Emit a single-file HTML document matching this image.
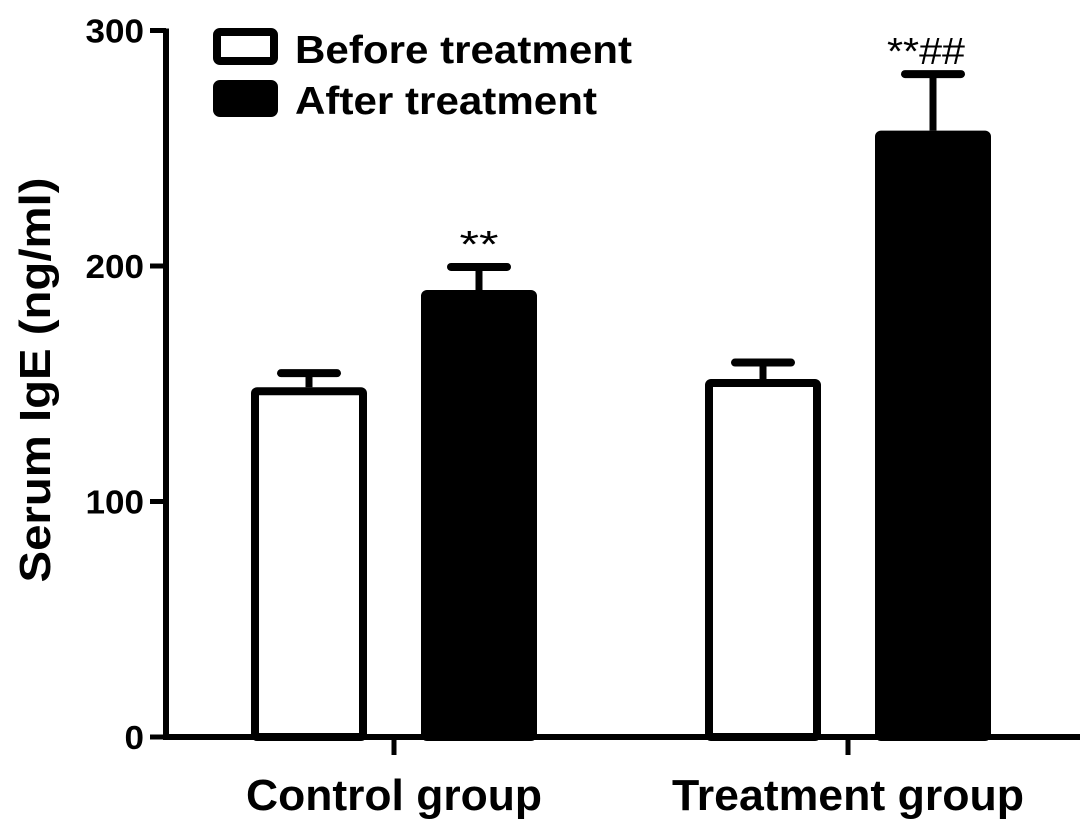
<!DOCTYPE html>
<html><head><meta charset="utf-8"><style>
html,body{margin:0;padding:0;background:#fff;}
svg{display:block;font-family:"Liberation Sans",Arial,sans-serif;font-weight:bold;}
</style></head><body>
<svg id="chart" width="1087" height="833" viewBox="0 0 1087 833" xmlns="http://www.w3.org/2000/svg">
<g id="axes"></g>
<g id="bars"></g>
<g id="legend">
  <rect x="217" y="32" width="57" height="29" rx="3" fill="#fff" stroke="#000" stroke-width="8"/>
  <text x="295" y="63" font-size="39" textLength="337" lengthAdjust="spacingAndGlyphs">Before treatment</text>
  <rect x="217" y="84" width="57" height="29" rx="3" fill="#000" stroke="#000" stroke-width="8"/>
  <text x="295" y="114" font-size="39" textLength="302" lengthAdjust="spacingAndGlyphs">After treatment</text>
</g>
<text transform="translate(50,380) rotate(-90)" text-anchor="middle" font-size="44" textLength="405" lengthAdjust="spacingAndGlyphs">Serum IgE (ng/ml)</text>
</svg>
<script>
const categories = ["Control group", "Treatment group"];
const beforeValues = [148.5, 152];
const afterValues = [189.8, 257.5];
const beforeErrors = [6, 7];
const afterErrors = [9.8, 24];
const annotations = ["**", "**##"];
const yTicks = [0, 100, 200, 300];

const NS = "http://www.w3.org/2000/svg";
const x0 = 166, x1 = 1080, y0 = 737, pxPer = 2.355;
const y = v => y0 - v * pxPer;
const groupX = i => 394 + i * 454;
function mk(tag, attrs, parent) {
  const e = document.createElementNS(NS, tag);
  for (const k in attrs) e.setAttribute(k, attrs[k]);
  parent.appendChild(e);
  return e;
}
const axes = document.getElementById("axes");
const bars = document.getElementById("bars");

categories.forEach((c, i) => {
  const gx = groupX(i);
  [[beforeValues[i], beforeErrors[i], -85, "#fff", "before"], [afterValues[i], afterErrors[i], 85, "#000", "after"]].forEach(([v, e, off, fill, nm]) => {
    const cx = gx + off;
    const top = y(v);
    const el = mk("line", {x1: cx, x2: cx, y1: top, y2: y(v + e), stroke: "#000", "stroke-width": 7}, bars);
    
    
    const cap = mk("line", {x1: cx - 28, x2: cx + 28, y1: y(v + e), y2: y(v + e), stroke: "#000", "stroke-width": 8, "stroke-linecap": "round"}, bars);
    
    
    const r = mk("rect", {x: cx - 54, y: top + 4, width: 108, height: y0 - top - 4, fill: fill, stroke: "#000", "stroke-width": 8, rx: 2}, bars);
    
    
  });
  const ax = gx + 85;
  const t = mk("text", {x: ax + (i === 0 ? 0 : -7), y: y(afterValues[i] + afterErrors[i]) - 10, "text-anchor": "middle", "font-size": 38, "font-weight": "normal", textLength: annotations[i].length * 19.5, lengthAdjust: "spacingAndGlyphs"}, bars);
  t.textContent = annotations[i];
  
  
  const tk = mk("line", {x1: gx, x2: gx, y1: y0, y2: 755, stroke: "#000", "stroke-width": 5}, axes);
  
  
  const lab = mk("text", {x: gx, y: 810, "text-anchor": "middle", "font-size": 44, textLength: i === 0 ? 296 : 352, lengthAdjust: "spacingAndGlyphs"}, axes);
  lab.textContent = c;
  
  
});

yTicks.forEach(v => {
  const tk = mk("line", {x1: 150, x2: x0, y1: y(v), y2: y(v), stroke: "#000", "stroke-width": 5}, axes);
  
  
  const lab = mk("text", {x: 144, y: y(v) + 12, "text-anchor": "end", "font-size": 33, textLength: String(v).length * 19.5, lengthAdjust: "spacingAndGlyphs"}, axes);
  lab.textContent = v;
  
  
});
const ya = mk("line", {x1: x0, x2: x0, y1: y(300) - 2, y2: y0 + 3, stroke: "#000", "stroke-width": 6}, axes);


const xa = mk("line", {x1: x0 - 3, x2: x1, y1: y0, y2: y0, stroke: "#000", "stroke-width": 6}, axes);


</script>
</body></html>
